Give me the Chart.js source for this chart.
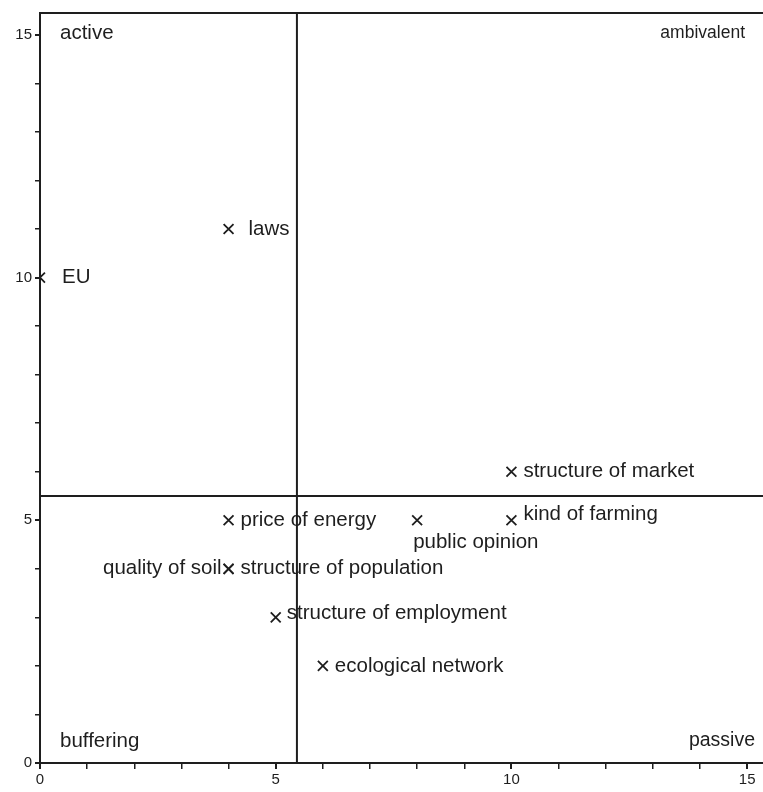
<!DOCTYPE html>
<html>
<head>
<meta charset="utf-8">
<script src="https://cdn.jsdelivr.net/npm/chart.js@4.4.1/dist/chart.umd.min.js"></script>
<style>
  html, body { margin: 0; padding: 0; background: #fff; }
  #wrap { width: 763px; height: 792px; }
</style>
</head>
<body>
<div id="wrap"><canvas id="chart"></canvas></div>
<script>
// --- Data ---
const FACTORS = ['EU', 'laws', 'structure of market', 'price of energy', 'public opinion',
  'kind of farming', 'quality of soil', 'structure of population',
  'structure of employment', 'ecological network'];
const X_VALUES = [0, 4, 10, 4, 8, 10, 4, 4, 5, 6];
const Y_VALUES = [10, 11, 6, 5, 5, 5, 4, 4, 3, 2];
const X_SPLIT = 5.45;
const Y_SPLIT = 5.5;
const QUADRANTS = ['active', 'ambivalent', 'buffering', 'passive'];
const TICK_LABELS = [0, 5, 10, 15];

// where each label sits relative to its mark
const PLACE = {
  'EU': 'right2', 'laws': 'right3', 'public opinion': 'below', 'kind of farming': 'upright',
  'quality of soil': 'left', 'structure of employment': 'nudge'
};

const INK = '#1e1e1e';
const FONT = '"Liberation Sans", Arial, sans-serif';

// --- Plugin: frame, split lines, texts ---
const quadPlugin = {
  id: 'quad',
  afterDatasetsDraw(chart) {
    const { ctx, chartArea: a, scales: { x, y } } = chart;
    const far = chart.width;
    ctx.save();
    ctx.strokeStyle = INK;
    ctx.lineWidth = 2;
    ctx.beginPath();
    ctx.moveTo(a.left, a.top); ctx.lineTo(far, a.top);
    const vx = x.getPixelForValue(X_SPLIT), hy = y.getPixelForValue(Y_SPLIT);
    ctx.moveTo(vx, a.top); ctx.lineTo(vx, a.bottom);
    ctx.moveTo(a.left, hy); ctx.lineTo(far, hy);
    ctx.moveTo(a.right, a.bottom); ctx.lineTo(far, a.bottom);
    ctx.stroke();

    ctx.fillStyle = INK;
    ctx.textBaseline = 'middle';
    ctx.font = '20.5px ' + FONT;
    ctx.textAlign = 'left';
    ctx.fillText(QUADRANTS[0], a.left + 20, a.top + 20);
    ctx.fillText(QUADRANTS[2], a.left + 20, a.bottom - 22);
    ctx.textAlign = 'right';
    ctx.font = '17.5px ' + FONT;
    ctx.fillText(QUADRANTS[1], far - 18, a.top + 20);
    ctx.font = '19.5px ' + FONT;
    ctx.fillText(QUADRANTS[3], far - 8, a.bottom - 22);

    ctx.font = '20.5px ' + FONT;
    const meta = chart.getDatasetMeta(0);
    meta.data.forEach((pt, i) => {
      const name = FACTORS[i];
      const p = PLACE[name] || 'right';
      let tx = pt.x + 12, ty = pt.y, align = 'left';
      if (p === 'right2') { tx = pt.x + 22; }
      if (p === 'right3') { tx = pt.x + 20; }
      if (p === 'below') { tx = pt.x - 4; ty = pt.y + 22; }
      if (p === 'upright') { tx = pt.x + 12; ty = pt.y - 6; }
      if (p === 'nudge') { tx = pt.x + 11; ty = pt.y - 4; }
      if (p === 'left') { tx = pt.x - 7; align = 'right'; }
      ctx.textAlign = align;
      ctx.fillText(name, tx, ty);
    });
    ctx.restore();
  }
};

// --- Chart ---
new Chart(document.getElementById('chart'), {
  type: 'scatter',
  data: {
    datasets: [{
      data: X_VALUES.map((v, i) => ({ x: v, y: Y_VALUES[i] })),
      pointStyle: 'crossRot',
      radius: 7,
      borderWidth: 1.8,
      borderColor: INK,
      backgroundColor: INK
    }]
  },
  options: {
    responsive: true, maintainAspectRatio: false, animation: false,
    layout: { padding: { top: 13, right: 0, left: 0, bottom: 0 } },
    plugins: { legend: { display: false }, tooltip: { enabled: false } },
    scales: {
      x: {
        type: 'linear', min: 0, max: 15.15,
        afterFit: s => { s.height = 29; },
        afterBuildTicks: s => { s.ticks = Array.from({ length: 16 }, (_, i) => ({ value: i })); },
        grid: { drawOnChartArea: false, drawTicks: true, tickLength: 6, color: INK,
          lineWidth: c => (c.tick && c.tick.value % 5 === 0 ? 2 : 1.5) },
        border: { display: true, color: INK, width: 2 },
        ticks: { color: INK, padding: 2, font: { size: 15, family: FONT },
          callback: v => (TICK_LABELS.includes(v) ? String(v) : '') }
      },
      y: {
        type: 'linear', min: 0, max: 15.45,
        afterFit: s => { s.width = 40; },
        afterBuildTicks: s => { s.ticks = Array.from({ length: 16 }, (_, i) => ({ value: i })); },
        grid: { drawOnChartArea: false, drawTicks: true, tickLength: 5, color: INK,
          lineWidth: c => (c.tick && c.tick.value % 5 === 0 ? 2 : 1.5) },
        border: { display: true, color: INK, width: 2 },
        ticks: { color: INK, padding: 3, font: { size: 15, family: FONT },
          callback: v => (TICK_LABELS.includes(v) ? String(v) : '') }
      }
    }
  },
  plugins: [quadPlugin]
});
</script>
</body>
</html>
